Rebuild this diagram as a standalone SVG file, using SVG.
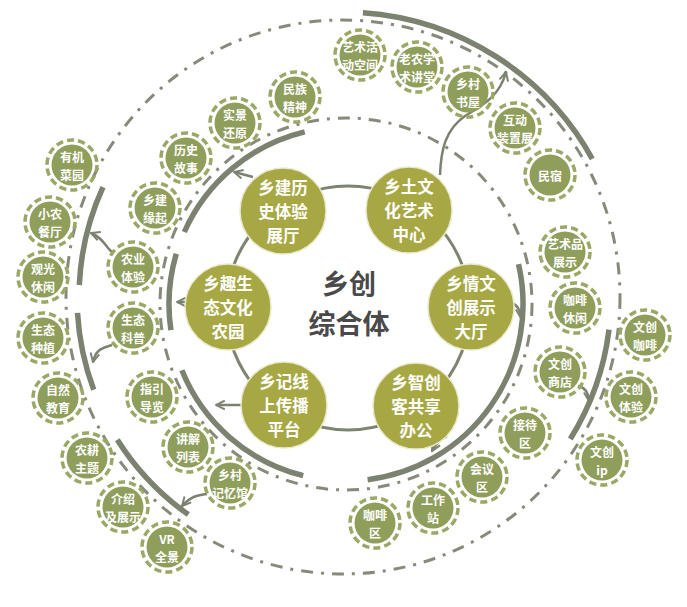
<svg xmlns="http://www.w3.org/2000/svg" width="687" height="607" viewBox="0 0 687 607">
<style>
.ring{fill:none;stroke:#9aa866;stroke-width:3.5;stroke-dasharray:7.2 4}
.nf{fill:#8f9e5b}
.st{font-family:"Noto Sans CJK SC","Noto Sans",sans-serif;font-weight:bold;font-size:12px;fill:#fff;text-anchor:middle;dominant-baseline:central}
.big{fill:#a7a844;stroke:#e9e9cc;stroke-width:1.5}
.bt{font-family:"Noto Sans CJK SC","Noto Sans",sans-serif;font-weight:bold;font-size:16.5px;fill:#fff;text-anchor:middle;dominant-baseline:central}
.ct{font-family:"Noto Sans CJK SC","Noto Sans",sans-serif;font-weight:bold;font-size:27px;fill:#4a4a4a;text-anchor:middle;dominant-baseline:central}
.thick{fill:none;stroke:#7b8270;stroke-width:5.5}
.dd{fill:none;stroke:#858a7a;stroke-width:3;stroke-dasharray:12 8 3 8}
.thin{fill:none;stroke:#7d8470;stroke-width:3}
.arr{fill:none;stroke:#7b8270;stroke-width:2.5;marker-end:url(#ah)}
</style>
<defs>
<marker id="ah" viewBox="0 0 10 10" refX="9" refY="5" markerWidth="11" markerHeight="11" markerUnits="userSpaceOnUse" orient="auto">
<path d="M1,1 L9,5 L1,9" fill="none" stroke="#7b8270" stroke-width="1.8"/>
</marker>
</defs>
<rect width="687" height="607" fill="#fff"/>
<g id="connectors">
<circle class="dd" cx="343" cy="297" r="277"/>
<circle class="dd" cx="346" cy="304" r="186"/>
<circle class="thin" cx="348" cy="308" r="122"/>
<path class="thick" d="M304.7,131.9 A177,177 0 0 0 184.3,232"/>
<path class="thick" d="M176.3,253.7 A177,177 0 0 0 170.9,330.2"/>
<path class="thick" d="M181.9,370.3 A177,177 0 0 0 303.2,475.7"/>
<path class="thick" d="M367.6,479.7 A177,177 0 0 0 518.5,264.2"/>
<path class="thick" d="M362.9,12.7 A285,285 0 0 1 592.3,158.8"/>
<path class="thick" d="M103,187.1 A264,264 0 0 0 79.3,285"/>
<path class="thick" d="M77.5,312.8 A266,266 0 0 0 93.7,389.7"/>
<path class="thick" d="M117.3,439.7 A267,267 0 0 0 188.3,514.6"/>
<path class="thick" d="M609,329.7 A268,268 0 0 1 570.3,439"/>
<path class="arr" d="M440,175 C441,150 445,130 465,116 C485,104 500,95 506,72"/>
<path class="arr" d="M253,177 L234,172"/>
<path class="arr" d="M187,302 L177,302"/>
<path class="arr" d="M242,405 L216,405"/>
<path class="arr" d="M512,303 Q520,306 521,318"/>
<path class="arr" d="M447,436 Q438,440 432,451"/>
<path class="arr" d="M112,252 C106,248 104,238 91,233"/>
<path class="arr" d="M112,345 C104,348 96,348 93,362"/>
<path class="arr" d="M207,494 C197,495 190,497 182,506"/>
<path class="arr" d="M578,386 Q588,388 589,401"/>
</g>
<g id="center"><text class="ct"><tspan x="349" y="282">乡创</tspan><tspan x="349" y="321.5">综合体</tspan></text></g>
<g id="b1" transform="translate(283,211)"><circle class="big" r="43"/><text class="bt"><tspan x="0" y="-24">乡建历</tspan><tspan x="0" y="0">史体验</tspan><tspan x="0" y="24">展厅</tspan></text></g>
<g id="b2" transform="translate(409,210)"><circle class="big" r="43"/><text class="bt"><tspan x="0" y="-24">乡土文</tspan><tspan x="0" y="0">化艺术</tspan><tspan x="0" y="24">中心</tspan></text></g>
<g id="b3" transform="translate(228,307)"><circle class="big" r="43"/><text class="bt"><tspan x="0" y="-24">乡趣生</tspan><tspan x="0" y="0">态文化</tspan><tspan x="0" y="24">农园</tspan></text></g>
<g id="b4" transform="translate(471,307)"><circle class="big" r="43"/><text class="bt"><tspan x="0" y="-24">乡情文</tspan><tspan x="0" y="0">创展示</tspan><tspan x="0" y="24">大厅</tspan></text></g>
<g id="b5" transform="translate(284,405)"><circle class="big" r="43"/><text class="bt"><tspan x="0" y="-24">乡记线</tspan><tspan x="0" y="0">上传播</tspan><tspan x="0" y="24">平台</tspan></text></g>
<g id="b6" transform="translate(416,406)"><circle class="big" r="43"/><text class="bt"><tspan x="0" y="-24">乡智创</tspan><tspan x="0" y="0">客共享</tspan><tspan x="0" y="24">办公</tspan></text></g>
<g id="n1" transform="translate(360,55)"><circle class="ring" r="25"/><circle class="nf" r="20.5"/><text class="st"><tspan x="0" y="-8.8">艺术活</tspan><tspan x="0" y="8.8">动空间</tspan></text></g>
<g id="n2" transform="translate(417,67)"><circle class="ring" r="25"/><circle class="nf" r="20.5"/><text class="st"><tspan x="0" y="-8.8">老农学</tspan><tspan x="0" y="8.8">术讲堂</tspan></text></g>
<g id="n3" transform="translate(468,92)"><circle class="ring" r="25"/><circle class="nf" r="20.5"/><text class="st"><tspan x="0" y="-8.8">乡村</tspan><tspan x="0" y="8.8">书屋</tspan></text></g>
<g id="n4" transform="translate(515,128)"><circle class="ring" r="25"/><circle class="nf" r="20.5"/><text class="st"><tspan x="0" y="-8.8">互动</tspan><tspan x="0" y="8.8">装置展</tspan></text></g>
<g id="n5" transform="translate(550,175)"><circle class="ring" r="25"/><circle class="nf" r="20.5"/><text class="st" x="0" y="0">民宿</text></g>
<g id="n6" transform="translate(295,97)"><circle class="ring" r="25"/><circle class="nf" r="20.5"/><text class="st"><tspan x="0" y="-8.8">民族</tspan><tspan x="0" y="8.8">精神</tspan></text></g>
<g id="n7" transform="translate(235,123)"><circle class="ring" r="25"/><circle class="nf" r="20.5"/><text class="st"><tspan x="0" y="-8.8">实景</tspan><tspan x="0" y="8.8">还原</tspan></text></g>
<g id="n8" transform="translate(186,158)"><circle class="ring" r="25"/><circle class="nf" r="20.5"/><text class="st"><tspan x="0" y="-8.8">历史</tspan><tspan x="0" y="8.8">故事</tspan></text></g>
<g id="n9" transform="translate(155,208)"><circle class="ring" r="25"/><circle class="nf" r="20.5"/><text class="st"><tspan x="0" y="-8.8">乡建</tspan><tspan x="0" y="8.8">缘起</tspan></text></g>
<g id="n10" transform="translate(72,165)"><circle class="ring" r="25"/><circle class="nf" r="20.5"/><text class="st"><tspan x="0" y="-8.8">有机</tspan><tspan x="0" y="8.8">菜园</tspan></text></g>
<g id="n11" transform="translate(50,222)"><circle class="ring" r="25"/><circle class="nf" r="20.5"/><text class="st"><tspan x="0" y="-8.8">小农</tspan><tspan x="0" y="8.8">餐厅</tspan></text></g>
<g id="n12" transform="translate(133,267)"><circle class="ring" r="25"/><circle class="nf" r="20.5"/><text class="st"><tspan x="0" y="-8.8">农业</tspan><tspan x="0" y="8.8">体验</tspan></text></g>
<g id="n13" transform="translate(43,277)"><circle class="ring" r="25"/><circle class="nf" r="20.5"/><text class="st"><tspan x="0" y="-8.8">观光</tspan><tspan x="0" y="8.8">休闲</tspan></text></g>
<g id="n14" transform="translate(133,328)"><circle class="ring" r="25"/><circle class="nf" r="20.5"/><text class="st"><tspan x="0" y="-8.8">生态</tspan><tspan x="0" y="8.8">科普</tspan></text></g>
<g id="n15" transform="translate(43,338)"><circle class="ring" r="25"/><circle class="nf" r="20.5"/><text class="st"><tspan x="0" y="-8.8">生态</tspan><tspan x="0" y="8.8">种植</tspan></text></g>
<g id="n16" transform="translate(58,398)"><circle class="ring" r="25"/><circle class="nf" r="20.5"/><text class="st"><tspan x="0" y="-8.8">自然</tspan><tspan x="0" y="8.8">教育</tspan></text></g>
<g id="n17" transform="translate(152,397)"><circle class="ring" r="25"/><circle class="nf" r="20.5"/><text class="st"><tspan x="0" y="-8.8">指引</tspan><tspan x="0" y="8.8">导览</tspan></text></g>
<g id="n18" transform="translate(188,447)"><circle class="ring" r="25"/><circle class="nf" r="20.5"/><text class="st"><tspan x="0" y="-8.8">讲解</tspan><tspan x="0" y="8.8">列表</tspan></text></g>
<g id="n19" transform="translate(87,458)"><circle class="ring" r="25"/><circle class="nf" r="20.5"/><text class="st"><tspan x="0" y="-8.8">农耕</tspan><tspan x="0" y="8.8">主题</tspan></text></g>
<g id="n20" transform="translate(230,483)"><circle class="ring" r="25"/><circle class="nf" r="20.5"/><text class="st"><tspan x="0" y="-8.8">乡村</tspan><tspan x="0" y="8.8">记忆馆</tspan></text></g>
<g id="n21" transform="translate(123,507)"><circle class="ring" r="25"/><circle class="nf" r="20.5"/><text class="st"><tspan x="0" y="-8.8">介绍</tspan><tspan x="0" y="8.8">及展示</tspan></text></g>
<g id="n22" transform="translate(167,547)"><circle class="ring" r="25"/><circle class="nf" r="20.5"/><text class="st"><tspan x="0" y="-8.8">VR</tspan><tspan x="0" y="8.8">全景</tspan></text></g>
<g id="n23" transform="translate(375,523)"><circle class="ring" r="25"/><circle class="nf" r="20.5"/><text class="st"><tspan x="0" y="-8.8">咖啡</tspan><tspan x="0" y="8.8">区</tspan></text></g>
<g id="n24" transform="translate(433,508)"><circle class="ring" r="25"/><circle class="nf" r="20.5"/><text class="st"><tspan x="0" y="-8.8">工作</tspan><tspan x="0" y="8.8">站</tspan></text></g>
<g id="n25" transform="translate(482,477)"><circle class="ring" r="25"/><circle class="nf" r="20.5"/><text class="st"><tspan x="0" y="-8.8">会议</tspan><tspan x="0" y="8.8">区</tspan></text></g>
<g id="n26" transform="translate(525,433)"><circle class="ring" r="25"/><circle class="nf" r="20.5"/><text class="st"><tspan x="0" y="-8.8">接待</tspan><tspan x="0" y="8.8">区</tspan></text></g>
<g id="n27" transform="translate(602,460)"><circle class="ring" r="25"/><circle class="nf" r="20.5"/><text class="st"><tspan x="0" y="-8.8">文创</tspan><tspan x="0" y="8.8">ip</tspan></text></g>
<g id="n28" transform="translate(631,397)"><circle class="ring" r="25"/><circle class="nf" r="20.5"/><text class="st"><tspan x="0" y="-8.8">文创</tspan><tspan x="0" y="8.8">体验</tspan></text></g>
<g id="n29" transform="translate(560,372)"><circle class="ring" r="25"/><circle class="nf" r="20.5"/><text class="st"><tspan x="0" y="-8.8">文创</tspan><tspan x="0" y="8.8">商店</tspan></text></g>
<g id="n30" transform="translate(645,335)"><circle class="ring" r="25"/><circle class="nf" r="20.5"/><text class="st"><tspan x="0" y="-8.8">文创</tspan><tspan x="0" y="8.8">咖啡</tspan></text></g>
<g id="n31" transform="translate(575,308)"><circle class="ring" r="25"/><circle class="nf" r="20.5"/><text class="st"><tspan x="0" y="-8.8">咖啡</tspan><tspan x="0" y="8.8">休闲</tspan></text></g>
<g id="n32" transform="translate(565,252)"><circle class="ring" r="25"/><circle class="nf" r="20.5"/><text class="st"><tspan x="0" y="-8.8">艺术品</tspan><tspan x="0" y="8.8">展示</tspan></text></g>
</svg>
